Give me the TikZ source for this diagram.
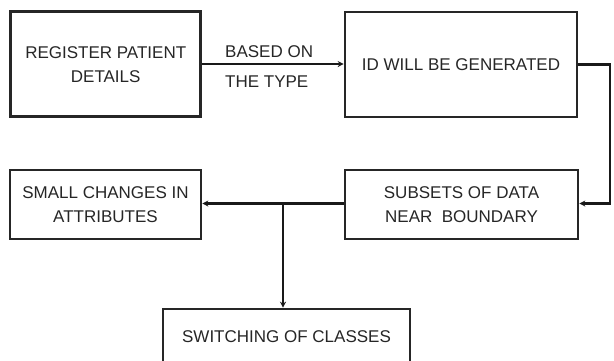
\documentclass[tikz,border=0pt]{standalone}
\usepackage{fontspec}
\setmainfont{Liberation Sans}
\usetikzlibrary{arrows.meta}
\tikzset{
  box/.style={draw=black!85, line width=2.6pt, rectangle, inner sep=0pt, align=center,
    font=\fontsize{17}{24}\selectfont, text=black!85},
  conn/.style={draw=black!90, line width=2.3pt},
  tip/.style={-{Stealth[length=6pt,width=6pt]}},
  lbl/.style={font=\fontsize{17}{24}\selectfont, text=black!85, inner sep=0pt, anchor=west},
}
\begin{document}
\begin{tikzpicture}[x=1pt,y=-1pt]
\useasboundingbox (0,0) rectangle (614,360);
\node[box, minimum width=190pt, minimum height=105pt] (reg) at (105.7,64.2) {REGISTER PATIENT\\DETAILS};
\node[box, minimum width=232pt, minimum height=105pt] (id) at (461,64.5) {ID WILL BE GENERATED};
\node[box, minimum width=191pt, minimum height=69pt] (small) at (105.5,204.5) {SMALL CHANGES IN\\ATTRIBUTES};
\node[box, minimum width=233pt, minimum height=69pt] (sub) at (461.5,204.5) {SUBSETS OF DATA\\NEAR\ \ BOUNDARY};
\node[box, minimum width=247pt, minimum height=56pt] (sw) at (286.5,337) {SWITCHING OF CLASSES};
\node[lbl] (l1) at (225,52) {BASED ON};
\node[lbl] (l2) at (225,82) {THE TYPE};
\coordinate (c1) at (610,64.5);
\coordinate (c2) at (610,203.5);
\coordinate (br) at (283,203.5);
\draw[conn,tip] (reg.east |- 0,64) -- (id.west |- 0,64);
\draw[conn,tip] (id.east) -- (c1) -- (c2) -- (sub.east |- c2);
\draw[conn,tip] (sub.west |- br) -- (small.east |- br);
\draw[conn,tip] (br) -- (br |- sw.north);
\end{tikzpicture}
\end{document}
